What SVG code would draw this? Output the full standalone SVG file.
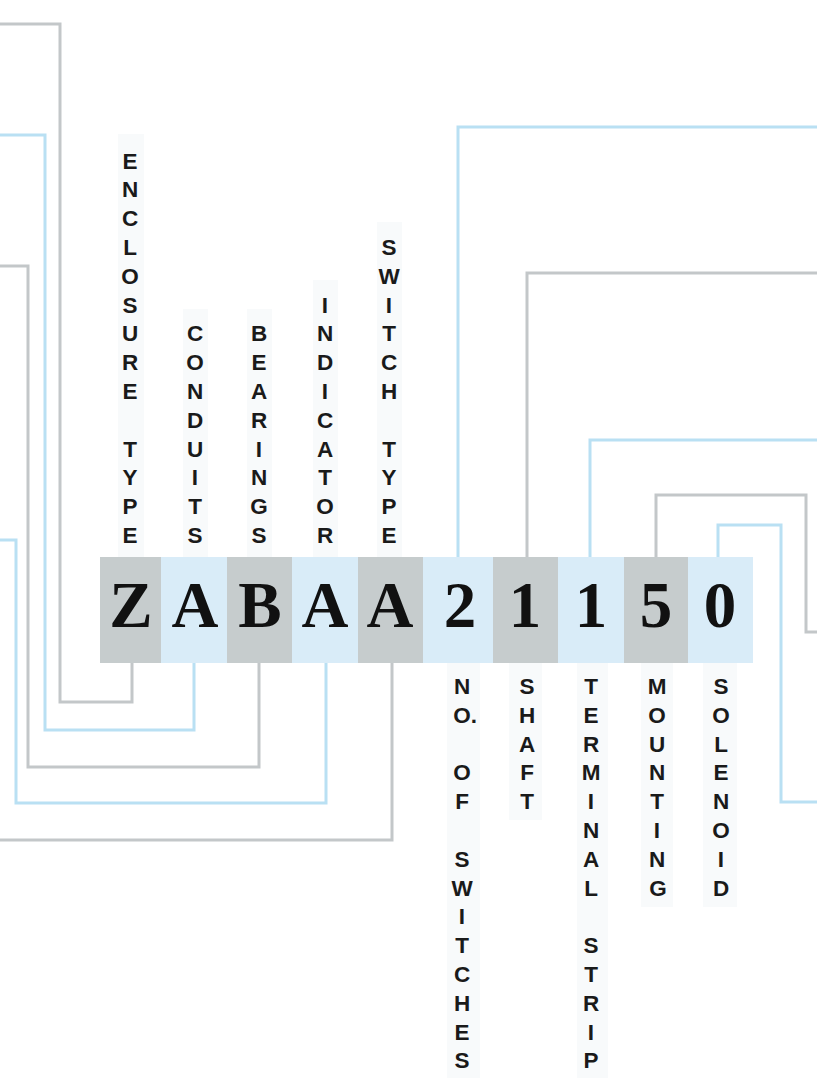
<svg xmlns="http://www.w3.org/2000/svg" width="817" height="1078" viewBox="0 0 817 1078">
  <style>
    .bg { fill: #ffffff; }
    .cg { fill: #c6cccd; }
    .cb { fill: #d9ecf8; }
    .strip { fill: #f8fafb; }
    .big { font-family: "Liberation Serif", "Times New Roman", serif; font-weight: bold; font-size: 65px; fill: #111111; text-anchor: middle; }
    .lbl { font-family: "Liberation Sans", Arial, sans-serif; font-weight: bold; font-size: 22.5px; fill: #1a1a1a; text-anchor: middle; }
    .st { text-anchor: start; }
    .wg { fill: none; stroke: #c3c7c9; stroke-width: 3; }
    .wb { fill: none; stroke: #b9e0f3; stroke-width: 3; }
  </style>
  <rect class="bg" x="0" y="0" width="817" height="1078"/>

  <g id="connectors">
    <path class="wg" d="M0,24 H60 V702 H132 V663"/>
    <path class="wb" d="M0,135 H45 V730 H194 V663"/>
    <path class="wg" d="M0,266 H28 V767 H259 V663"/>
    <path class="wb" d="M0,540 H16 V803 H326 V663"/>
    <path class="wg" d="M0,840 H392 V663"/>
    <path class="wb" d="M458,557 V127 H817"/>
    <path class="wg" d="M527,557 V273 H817"/>
    <path class="wb" d="M590,557 V440 H817"/>
    <path class="wg" d="M656,557 V495 H806 V632 H817"/>
    <path class="wb" d="M718,557 V525 H781 V802 H817"/>
  </g>

  <g id="node-enclosure-type">
    <rect class="strip" x="118" y="134" width="26" height="423"/>
    <rect class="cg" x="100" y="557" width="61" height="106"/>
    <text class="big" x="131" y="627">Z</text>
    <text class="lbl"><tspan x="130" y="168.6">E</tspan><tspan x="130" y="197.4">N</tspan><tspan x="130" y="226.2">C</tspan><tspan x="130" y="255">L</tspan><tspan x="130" y="283.8">O</tspan><tspan x="130" y="312.6">S</tspan><tspan x="130" y="341.4">U</tspan><tspan x="130" y="370.2">R</tspan><tspan x="130" y="399">E</tspan><tspan x="130" y="456.6">T</tspan><tspan x="130" y="485.4">Y</tspan><tspan x="130" y="514.2">P</tspan><tspan x="130" y="543">E</tspan></text>
  </g>

  <g id="node-conduits">
    <rect class="strip" x="183" y="309" width="25" height="248"/>
    <rect class="cb" x="161" y="557" width="66" height="106"/>
    <text class="big" x="195" y="627">A</text>
    <text class="lbl"><tspan x="195" y="341.4">C</tspan><tspan x="195" y="370.2">O</tspan><tspan x="195" y="399">N</tspan><tspan x="195" y="427.8">D</tspan><tspan x="195" y="456.6">U</tspan><tspan x="195" y="485.4">I</tspan><tspan x="195" y="514.2">T</tspan><tspan x="195" y="543">S</tspan></text>
  </g>

  <g id="node-bearings">
    <rect class="strip" x="247" y="309" width="25" height="248"/>
    <rect class="cg" x="227" y="557" width="65" height="106"/>
    <text class="big" x="260" y="627">B</text>
    <text class="lbl"><tspan x="259" y="341.4">B</tspan><tspan x="259" y="370.2">E</tspan><tspan x="259" y="399">A</tspan><tspan x="259" y="427.8">R</tspan><tspan x="259" y="456.6">I</tspan><tspan x="259" y="485.4">N</tspan><tspan x="259" y="514.2">G</tspan><tspan x="259" y="543">S</tspan></text>
  </g>

  <g id="node-indicator">
    <rect class="strip" x="313" y="280" width="25" height="277"/>
    <rect class="cb" x="292" y="557" width="66" height="106"/>
    <text class="big" x="325" y="627">A</text>
    <text class="lbl"><tspan x="325" y="312.6">I</tspan><tspan x="325" y="341.4">N</tspan><tspan x="325" y="370.2">D</tspan><tspan x="325" y="399">I</tspan><tspan x="325" y="427.8">C</tspan><tspan x="325" y="456.6">A</tspan><tspan x="325" y="485.4">T</tspan><tspan x="325" y="514.2">O</tspan><tspan x="325" y="543">R</tspan></text>
  </g>

  <g id="node-switch-type">
    <rect class="strip" x="377" y="222" width="25" height="335"/>
    <rect class="cg" x="358" y="557" width="65" height="106"/>
    <text class="big" x="390" y="627">A</text>
    <text class="lbl"><tspan x="389" y="255">S</tspan><tspan x="389" y="283.8">W</tspan><tspan x="389" y="312.6">I</tspan><tspan x="389" y="341.4">T</tspan><tspan x="389" y="370.2">C</tspan><tspan x="389" y="399">H</tspan><tspan x="389" y="456.6">T</tspan><tspan x="389" y="485.4">Y</tspan><tspan x="389" y="514.2">P</tspan><tspan x="389" y="543">E</tspan></text>
  </g>

  <g id="node-no-of-switches">
    <rect class="strip" x="447" y="663" width="33" height="415"/>
    <rect class="cb" x="423" y="557" width="70" height="106"/>
    <text class="big" x="460" y="627">2</text>
    <text class="lbl"><tspan x="462" y="694">N</tspan><tspan class="st" x="453.2" y="722.8">O.</tspan><tspan x="462" y="780.4">O</tspan><tspan x="462" y="809.2">F</tspan><tspan x="462" y="866.8">S</tspan><tspan x="462" y="895.6">W</tspan><tspan x="462" y="924.4">I</tspan><tspan x="462" y="953.2">T</tspan><tspan x="462" y="982">C</tspan><tspan x="462" y="1010.8">H</tspan><tspan x="462" y="1039.6">E</tspan><tspan x="462" y="1068.4">S</tspan></text>
  </g>

  <g id="node-shaft">
    <rect class="strip" x="509" y="663" width="33" height="157"/>
    <rect class="cg" x="493" y="557" width="65" height="106"/>
    <text class="big" x="525" y="627">1</text>
    <text class="lbl"><tspan x="527" y="694">S</tspan><tspan x="527" y="722.8">H</tspan><tspan x="527" y="751.6">A</tspan><tspan x="527" y="780.4">F</tspan><tspan x="527" y="809.2">T</tspan></text>
  </g>

  <g id="node-terminal-strip">
    <rect class="strip" x="577" y="663" width="31" height="415"/>
    <rect class="cb" x="558" y="557" width="66" height="106"/>
    <text class="big" x="591" y="627">1</text>
    <text class="lbl"><tspan x="591" y="694">T</tspan><tspan x="591" y="722.8">E</tspan><tspan x="591" y="751.6">R</tspan><tspan x="591" y="780.4">M</tspan><tspan x="591" y="809.2">I</tspan><tspan x="591" y="838">N</tspan><tspan x="591" y="866.8">A</tspan><tspan x="591" y="895.6">L</tspan><tspan x="591" y="953.2">S</tspan><tspan x="591" y="982">T</tspan><tspan x="591" y="1010.8">R</tspan><tspan x="591" y="1039.6">I</tspan><tspan x="591" y="1068.4">P</tspan></text>
  </g>

  <g id="node-mounting">
    <rect class="strip" x="641" y="663" width="32" height="244"/>
    <rect class="cg" x="624" y="557" width="64" height="106"/>
    <text class="big" x="656" y="627">5</text>
    <text class="lbl"><tspan x="657" y="694">M</tspan><tspan x="657" y="722.8">O</tspan><tspan x="657" y="751.6">U</tspan><tspan x="657" y="780.4">N</tspan><tspan x="657" y="809.2">T</tspan><tspan x="657" y="838">I</tspan><tspan x="657" y="866.8">N</tspan><tspan x="658" y="895.6">G</tspan></text>
  </g>

  <g id="node-solenoid">
    <rect class="strip" x="703" y="663" width="34" height="244"/>
    <rect class="cb" x="688" y="557" width="65" height="106"/>
    <text class="big" x="720" y="627">0</text>
    <text class="lbl"><tspan x="721" y="694">S</tspan><tspan x="721" y="722.8">O</tspan><tspan x="721" y="751.6">L</tspan><tspan x="721" y="780.4">E</tspan><tspan x="721" y="809.2">N</tspan><tspan x="721" y="838">O</tspan><tspan x="721" y="866.8">I</tspan><tspan x="721" y="895.6">D</tspan></text>
  </g>
</svg>
